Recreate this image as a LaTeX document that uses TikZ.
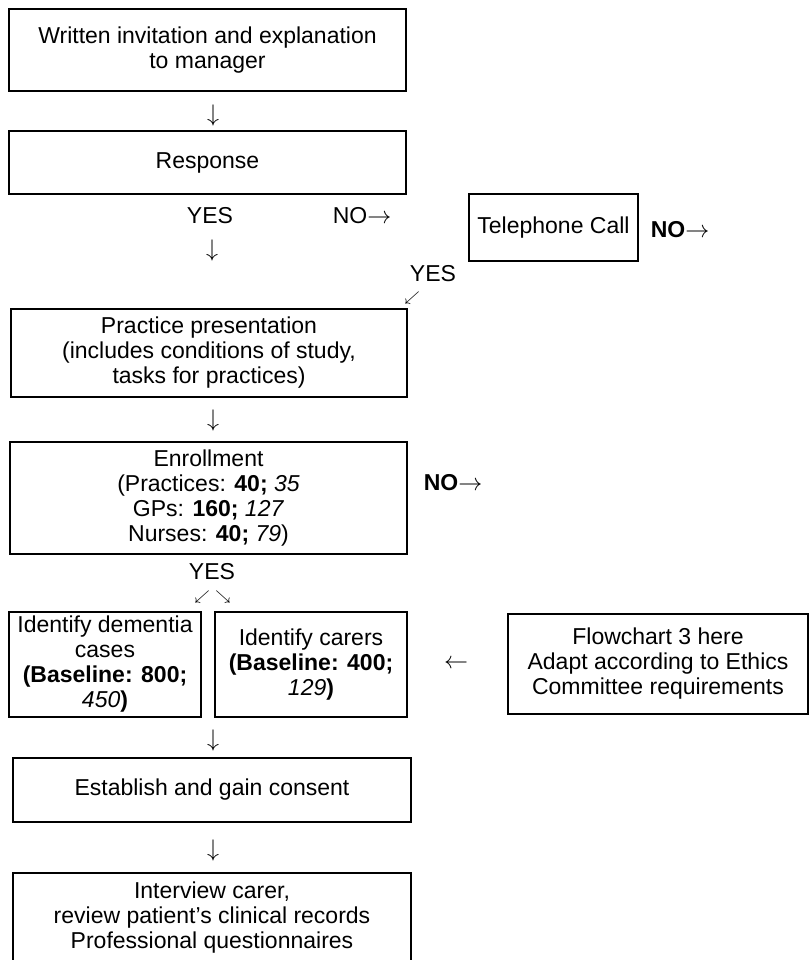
\documentclass[tikz,border=0pt]{standalone}
\usepackage{fontspec}
\setmainfont{Liberation Sans}

\tikzset{
  box/.style={draw, line width=1pt, align=center, inner sep=0pt},
  thinbox/.style={box, line width=0.6pt},
  lbl/.style={inner sep=0pt},
  diag/.style={lbl, font=\scriptsize},
}

\begin{document}
\begin{tikzpicture}[x=0.5pt, y=-0.5pt, font=\fontsize{11.5}{12.5}\selectfont]
    \useasboundingbox (0,0) rectangle (809,960);

    % 1. The boxes (left column)
    \node[box, minimum width=198.5pt, minimum height=41pt] (invite) at (207.5, 50)
        {Written invitation and explanation\\to manager};
    \node[box, minimum width=198.5pt, minimum height=31.5pt] (response) at (207.5, 162.5)
        {Response};
    \node[box, line width=0.8pt, minimum width=198pt, minimum height=44pt] (practice) at (209, 353)
        {Practice presentation\\(includes conditions of study,\\tasks for practices)};
    \node[box, minimum width=198.5pt, minimum height=56pt] (enrol) at (208.5, 498)
        {Enrollment\\(Practices: \textbf{40;} \textit{35}\\GPs: \textbf{160;} \textit{127}\\Nurses: \textbf{40;} \textit{79})};

    % Two boxes side by side
    \node[box, minimum width=96pt, minimum height=52.5pt] (cases) at (105, 664.5)
        {Identify dementia\\cases\\\textbf{(Baseline: 800;}\\\textit{450}\textbf{)}};
    \node[box, minimum width=96pt, minimum height=52.5pt] (carers) at (311, 664.5)
        {Identify carers\\\textbf{(Baseline: 400;}\\\textit{129}\textbf{)}};

    \node[box, minimum width=199pt, minimum height=32pt] (consent) at (212, 790)
        {Establish and gain consent};
    \node[box, minimum width=199pt, minimum height=45pt] (interview) at (212, 918)
        {Interview carer,\\review patient's clinical records\\Professional questionnaires};

    % 2. The boxes on the right
    \node[thinbox, minimum width=84.5pt, minimum height=33.5pt] (phone) at (553.5, 227.5)
        {Telephone Call};
    \node[thinbox, minimum width=150pt, minimum height=50pt] (flow) at (658, 664)
        {Flowchart 3 here\\Adapt according to Ethics\\Committee requirements};

    % 3. YES / NO labels and the arrow glyphs
    \node[lbl] (down1) at (213, 115) {$\downarrow$};
    \node[lbl] (yes1) at (210, 216) {YES};
    \node[lbl] (no1) at (362, 216) {NO$\rightarrow$};
    \node[lbl] (down2) at (212, 250) {$\downarrow$};
    \node[lbl] (no2) at (680, 230) {\textbf{NO}$\rightarrow$};
    \node[lbl] (yes2) at (433, 274) {YES};
    \node[diag] (sw1) at (412, 298) {$\swarrow$};
    \node[lbl] (down3) at (213, 420) {$\downarrow$};
    \node[lbl] (no3) at (453, 483) {\textbf{NO}$\rightarrow$};
    \node[lbl] (yes3) at (212, 572) {YES};
    \node[diag] (sw2) at (202, 597) {$\swarrow$};
    \node[diag] (se1) at (223, 597) {$\searrow$};
    \node[lbl] (left1) at (456, 664) {$\leftarrow$};
    \node[lbl] (down4) at (213, 740) {$\downarrow$};
    \node[lbl] (down5) at (213, 850) {$\downarrow$};

\end{tikzpicture}
\end{document}
